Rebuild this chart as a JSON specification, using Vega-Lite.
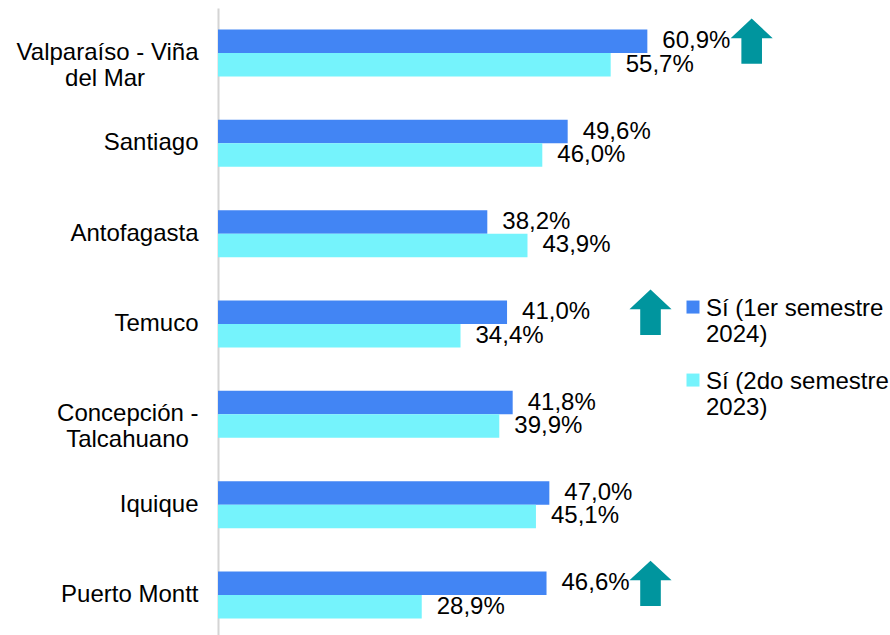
{
  "$schema": "https://vega.github.io/schema/vega-lite/v6.json",
  "width": 672,
  "height": 627,
  "autosize": {"type": "none"},
  "padding": {"left": 218, "top": 8, "right": 0, "bottom": 0},
  "background": "white",
  "config": {
    "font": "Liberation Sans",
    "view": {"stroke": null},
    "locale": {"number": {"decimal": ",", "thousands": ".", "grouping": [3], "currency": ["$", ""]}}
  },
  "datasets": {
    "bars": [
      {"region": "Valparaíso - Viña del Mar", "series": "Sí (1er semestre 2024)", "value": 0.609},
      {"region": "Valparaíso - Viña del Mar", "series": "Sí (2do semestre 2023)", "value": 0.557},
      {"region": "Santiago", "series": "Sí (1er semestre 2024)", "value": 0.496},
      {"region": "Santiago", "series": "Sí (2do semestre 2023)", "value": 0.460},
      {"region": "Antofagasta", "series": "Sí (1er semestre 2024)", "value": 0.382},
      {"region": "Antofagasta", "series": "Sí (2do semestre 2023)", "value": 0.439},
      {"region": "Temuco", "series": "Sí (1er semestre 2024)", "value": 0.410},
      {"region": "Temuco", "series": "Sí (2do semestre 2023)", "value": 0.344},
      {"region": "Concepción - Talcahuano", "series": "Sí (1er semestre 2024)", "value": 0.418},
      {"region": "Concepción - Talcahuano", "series": "Sí (2do semestre 2023)", "value": 0.399},
      {"region": "Iquique", "series": "Sí (1er semestre 2024)", "value": 0.470},
      {"region": "Iquique", "series": "Sí (2do semestre 2023)", "value": 0.451},
      {"region": "Puerto Montt", "series": "Sí (1er semestre 2024)", "value": 0.466},
      {"region": "Puerto Montt", "series": "Sí (2do semestre 2023)", "value": 0.289}
    ],
    "arrows": [
      {"region": "Valparaíso - Viña del Mar", "series": "Sí (1er semestre 2024)", "arrow_x": 0.757},
      {"region": "Temuco", "series": "Sí (1er semestre 2024)", "arrow_x": 0.6135},
      {"region": "Puerto Montt", "series": "Sí (1er semestre 2024)", "arrow_x": 0.6135}
    ]
  },
  "encoding": {
    "y": {
      "field": "region",
      "type": "nominal",
      "sort": ["Valparaíso - Viña del Mar", "Santiago", "Antofagasta", "Temuco", "Concepción - Talcahuano", "Iquique", "Puerto Montt"],
      "scale": {"paddingInner": 0.48, "paddingOuter": 0.21, "align": 0.566},
      "axis": {
        "title": null,
        "ticks": false,
        "domainColor": "#D4D4D4",
        "domainWidth": 2,
        "labelPadding": 20,
        "labelFontSize": 24,
        "labelFont": "Liberation Sans",
        "labelColor": "#000000",
        "labelLineHeight": 26,
        "labelLimit": 400,
        "labelExpr": "datum.label == 'Valparaíso - Viña del Mar' ? ['Valparaíso - Viña', 'del Mar\u2007\u2007\u2007\u2007\u2060'] : datum.label == 'Concepción - Talcahuano' ? ['Concepción -', 'Talcahuano\u2009\u2009\u2060'] : datum.label"
      }
    },
    "yOffset": {
      "field": "series",
      "type": "nominal",
      "sort": ["Sí (1er semestre 2024)", "Sí (2do semestre 2023)"]
    }
  },
  "layer": [
    {
      "data": {"name": "bars"},
      "mark": {"type": "bar"},
      "encoding": {
        "x": {"field": "value", "type": "quantitative", "scale": {"domain": [0, 0.9532], "nice": false, "zero": true}, "axis": null},
        "color": {
          "field": "series",
          "type": "nominal",
          "scale": {"domain": ["Sí (1er semestre 2024)", "Sí (2do semestre 2023)"], "range": ["#4285F4", "#75F3FC"]},
          "legend": {
            "orient": "none",
            "legendX": 463,
            "legendY": 289,
            "title": null,
            "padding": 0,
            "symbolType": "M-1,-1.3H1V0.7H-1Z",
            "symbolSize": 169,
            "symbolStrokeWidth": 0,
            "labelFontSize": 24,
            "labelFont": "Liberation Sans",
            "labelColor": "#000000",
            "labelLimit": 400,
            "labelOffset": 1,
            "rowPadding": 23,
            "labelBaseline": "middle",
            "labelExpr": "datum.label == 'Sí (1er semestre 2024)' ? ['Sí (1er semestre', '2024)'] : ['Sí (2do semestre', '2023)']"
          }
        }
      }
    },
    {
      "data": {"name": "bars"},
      "mark": {"type": "text", "align": "left", "baseline": "middle", "dx": 15, "fontSize": 24, "font": "Liberation Sans", "color": "#000000"},
      "encoding": {
        "x": {"field": "value", "type": "quantitative"},
        "text": {"field": "value", "type": "quantitative", "format": ".1%"}
      }
    },
    {
      "data": {"name": "arrows"},
      "mark": {"type": "point", "shape": "M0,-1L0.93,-0.136L0.455,-0.136L0.455,1L-0.455,1L-0.455,-0.136L-0.93,-0.136Z", "size": 2050, "filled": true, "color": "#00959E", "opacity": 1, "strokeWidth": 0},
      "encoding": {
        "x": {"field": "arrow_x", "type": "quantitative"}
      }
    }
  ]
}
